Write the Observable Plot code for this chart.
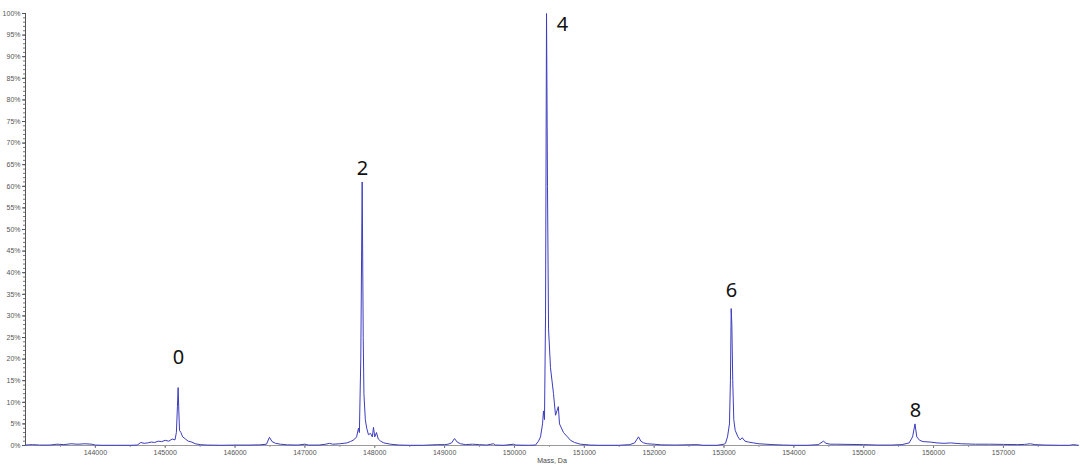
<!DOCTYPE html>
<html>
<head>
<meta charset="utf-8">
<script src="https://cdn.jsdelivr.net/npm/d3@7"></script>
<script src="https://cdn.jsdelivr.net/npm/@observablehq/plot@0.6"></script>
<style>
  html, body { margin: 0; padding: 0; background: #fff; }
  #chart { width: 1080px; height: 473px; }
</style>
</head>
<body>
<div id="chart"></div>
<script>
// Spectrum: mass (Da) and relative intensity (%)
const mass = [
  143000, 143100, 143200, 143350, 143450, 143550, 143650, 143750, 143850, 143950,
  144000, 144100, 144300, 144500, 144600, 144650, 144700, 144750, 144800, 144850,
  144900, 144950, 145000, 145050, 145100, 145140, 145160, 145175, 145185, 145195,
  145205, 145225, 145250, 145290, 145330, 145380, 145430, 145500, 145600, 145800,
  146000, 146200, 146350, 146450, 146493, 146530, 146580, 146650, 146750, 146900,
  147000, 147050, 147200, 147300, 147350, 147400, 147500, 147600, 147650, 147700,
  147740, 147767, 147780, 147800, 147820, 147835, 147845, 147865, 147885, 147910,
  147940, 147965, 147982, 148000, 148025, 148050, 148085, 148130, 148225, 148350,
  148500, 148700, 148900, 149000, 149050, 149100, 149142, 149180, 149230, 149300,
  149400, 149500, 149600, 149700, 149730, 149850, 149986, 150020, 150200, 150301,
  150344, 150373, 150402, 150416, 150430, 150445, 150459, 150473, 150488, 150516,
  150559, 150588, 150628, 150645, 150659, 150702, 150759, 150802, 150859, 150945,
  151088, 151200, 151500, 151650, 151720, 151776, 151810, 151850, 151900, 152000,
  152100, 152300, 152620, 152700, 152900, 153000, 153021, 153050, 153078, 153092,
  153103, 153112, 153125, 153140, 153160, 153200, 153230, 153261, 153300, 153350,
  153420, 153500, 153600, 153700, 153850, 154000, 154200, 154350, 154424, 154460,
  154520, 154600, 155000, 155200, 155400, 155550, 155650, 155700, 155734, 155760,
  155800, 155850, 155950, 156050, 156150, 156242, 156320, 156400, 156600, 156800,
  157000, 157200, 157300, 157387, 157450, 157600, 157800, 157950, 158000, 158075
];
const intensity = [
  0.1, 0.2, 0.1, 0.1, 0.3, 0.2, 0.4, 0.3, 0.4, 0.3,
  0.1, 0.05, 0.05, 0.05, 0.1, 0.7, 0.5, 0.6, 0.8, 0.7,
  1.0, 0.9, 1.2, 1.0, 1.5, 1.3, 3, 9, 13.4, 8,
  3.5, 3, 2, 1.5, 1, 0.8, 0.4, 0.2, 0.1, 0.05,
  0.1, 0.1, 0.15, 0.3, 1.9, 0.9, 0.5, 0.3, 0.15, 0.1,
  0.3, 0.1, 0.1, 0.3, 0.5, 0.3, 0.4, 0.6, 0.9, 1.3,
  2, 4, 3, 20, 61, 25, 12, 6, 4, 2.5,
  2.8, 2, 4.2, 2, 3, 1.5, 1, 0.6, 0.3, 0.1,
  0.05, 0.05, 0.2, 0.2, 0.3, 0.6, 1.6, 0.8, 0.4, 0.2,
  0.3, 0.2, 0.1, 0.4, 0.1, 0.05, 0.3, 0.1, 0.05, 0.1,
  1, 2, 5, 8, 6, 30, 100, 60, 27, 18,
  12, 7, 9, 5, 4.5, 3, 2, 1.2, 0.7, 0.3,
  0.1, 0.05, 0.05, 0.2, 0.6, 2.0, 1, 0.6, 0.4, 0.3,
  0.15, 0.1, 0.2, 0.05, 0.05, 0.3, 0.5, 2, 5, 15,
  31.7, 28, 15, 6, 3.5, 2, 1.3, 1.8, 1.0, 0.8,
  0.6, 0.4, 0.3, 0.2, 0.1, 0.05, 0.05, 0.2, 1.0, 0.5,
  0.3, 0.3, 0.2, 0.1, 0.1, 0.2, 0.6, 2, 5, 2,
  1.2, 0.9, 0.8, 0.6, 0.5, 0.6, 0.5, 0.4, 0.3, 0.3,
  0.25, 0.2, 0.25, 0.4, 0.2, 0.1, 0.05, 0.05, 0.2, 0.05
];

// Peak annotations
const peakLabels = ["0", "2", "4", "6", "8"];
const peakMass = [145190, 147824, 150688, 153107, 155741];
const peakPct = [20.4, 64.1, 97.5, 35.9, 8.1];

// Axis ticks
const xTicks = d3.range(144000, 158000, 1000);
const xMinorTicks = d3.range(143500, 158000, 500);
const yTicks = d3.range(0, 101, 5);
const yMinorTicks = d3.range(0, 101, 1);
const xTitle = "Mass, Da";

const spectrum = mass.map((m, i) => ({mass: m, pct: intensity[i]}));
const labels = peakLabels.map((t, i) => ({t, mass: peakMass[i], pct: peakPct[i]}));

const axisFont = "Liberation Sans, Arial, sans-serif";

const chart = Plot.plot({
  width: 1080,
  height: 473,
  marginLeft: 25,
  marginRight: 2,
  marginTop: 13,
  marginBottom: 28,
  style: {fontFamily: axisFont, background: "#fff", overflow: "visible"},
  x: {domain: [143000, 158075], label: null},
  y: {domain: [0, 100], label: null},
  marks: [
    Plot.axisY(yMinorTicks, {tickSize: 2, text: null, stroke: "#777", label: null}),
    Plot.axisY(yTicks, {tickSize: 3, tickPadding: 2, tickFormat: d => d + "%", fontSize: 7, fill: "#555", stroke: "#555", label: null}),
    Plot.axisX(xMinorTicks, {tickSize: 2, text: null, stroke: "#999", label: null}),
    Plot.axisX(xTicks, {tickSize: 3, tickPadding: 2, tickFormat: d3.format("d"), fontSize: 7, fill: "#555", stroke: "#777", label: null}),
    Plot.ruleX([143000], {stroke: "#555"}),
    Plot.ruleY([0], {stroke: "#999"}),
    Plot.lineY(spectrum, {x: "mass", y: "pct", stroke: "#3c3cc0", strokeWidth: 1}),
    Plot.text(labels, {x: "mass", y: "pct", text: "t", fontSize: 20, fill: "#111", fontFamily: "Noto Sans, sans-serif"}),
    Plot.text([xTitle], {frameAnchor: "bottom", dy: 17, fontSize: 7, fill: "#444"})
  ]
});
document.getElementById("chart").appendChild(chart);
</script>
</body>
</html>
